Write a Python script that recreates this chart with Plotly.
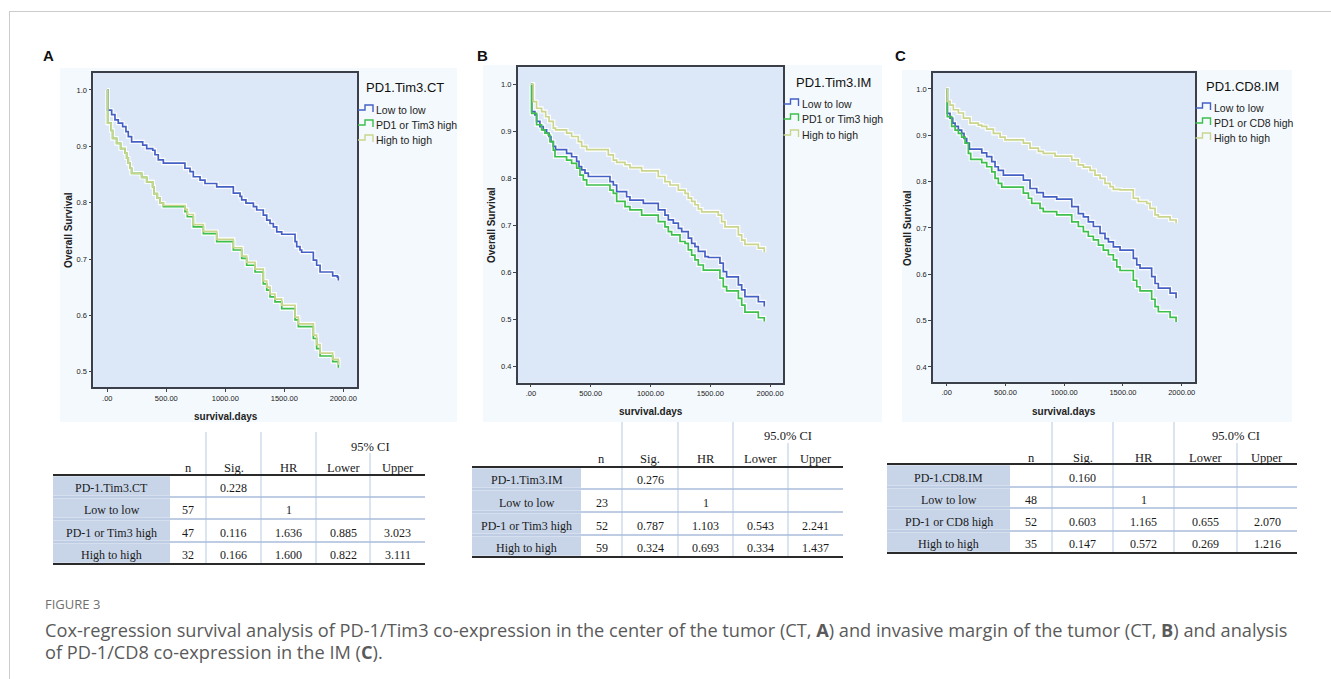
import plotly.graph_objects as go

W, H = 1331, 679

# ---------------- Kaplan-Meier curves (days, survival) ----------------
A_LOW_DAYS = [0, 3, 37, 65, 93, 130, 158, 178, 206, 300, 334, 385, 404, 432, 475, 658, 701, 729, 786, 828,
              927, 1068, 1125, 1139, 1175, 1238, 1266, 1322, 1351, 1379, 1407, 1436, 1478, 1591, 1605, 1633,
              1647, 1746, 1774, 1803, 1910, 1950, 1958]
A_LOW_SURV = [1.0, 0.964, 0.956, 0.947, 0.941, 0.935, 0.926, 0.917, 0.908, 0.902, 0.896, 0.893, 0.885, 0.876,
              0.870, 0.861, 0.855, 0.846, 0.840, 0.834, 0.828, 0.817, 0.811, 0.805, 0.799, 0.793, 0.787, 0.778,
              0.769, 0.763, 0.757, 0.748, 0.744, 0.731, 0.722, 0.716, 0.712, 0.698, 0.689, 0.677, 0.670, 0.668,
              0.662]
A_MID_DAYS = [0, 3, 33, 45, 79, 113, 150, 164, 178, 192, 206, 291, 334, 384, 396, 424, 447, 475, 658, 678,
              729, 814, 927, 1068, 1139, 1181, 1252, 1322, 1351, 1379, 1421, 1478, 1591, 1619, 1746, 1774,
              1803, 1910, 1958]
A_MID_SURV = [1.0, 0.941, 0.928, 0.914, 0.905, 0.896, 0.888, 0.879, 0.870, 0.861, 0.852, 0.845, 0.837, 0.828,
              0.816, 0.808, 0.799, 0.793, 0.784, 0.775, 0.757, 0.745, 0.731, 0.716, 0.701, 0.689, 0.677, 0.656,
              0.645, 0.633, 0.624, 0.612, 0.592, 0.580, 0.559, 0.541, 0.528, 0.518, 0.507]
A_HIGH_DAYS = [0, 3, 33, 45, 79, 113, 150, 164, 178, 192, 206, 291, 334, 384, 396, 424, 447, 475, 658, 678,
               729, 814, 927, 1068, 1139, 1181, 1252, 1322, 1351, 1379, 1421, 1478, 1591, 1619, 1746, 1774,
               1803, 1910, 1958]
A_HIGH_SURV = [1.0, 0.941, 0.928, 0.914, 0.905, 0.896, 0.888, 0.879, 0.870, 0.861, 0.852, 0.845, 0.837, 0.828,
               0.816, 0.808, 0.799, 0.795, 0.788, 0.779, 0.761, 0.749, 0.735, 0.720, 0.705, 0.694, 0.682, 0.661,
               0.650, 0.638, 0.629, 0.618, 0.597, 0.585, 0.565, 0.548, 0.533, 0.522, 0.512]

B_LOW_DAYS = [0, 6, 33, 47, 75, 103, 131, 151, 167, 187, 206, 298, 340, 382, 402, 424, 452, 480, 661, 689,
              717, 800, 828, 940, 1065, 1121, 1149, 1191, 1233, 1261, 1316, 1344, 1372, 1400, 1456, 1484,
              1581, 1609, 1637, 1735, 1763, 1790, 1902, 1952]
B_LOW_SURV = [1.0, 0.942, 0.935, 0.921, 0.910, 0.903, 0.896, 0.889, 0.878, 0.868, 0.861, 0.853, 0.846, 0.836,
              0.825, 0.818, 0.811, 0.804, 0.793, 0.786, 0.772, 0.761, 0.754, 0.747, 0.733, 0.722, 0.712, 0.705,
              0.694, 0.687, 0.673, 0.662, 0.655, 0.645, 0.634, 0.632, 0.620, 0.602, 0.591, 0.574, 0.563, 0.549,
              0.538, 0.528]
B_MID_DAYS = [0, 6, 47, 89, 117, 145, 159, 187, 201, 298, 340, 382, 410, 438, 466, 661, 689, 717, 787, 828,
              926, 1065, 1121, 1149, 1177, 1247, 1289, 1316, 1344, 1372, 1400, 1442, 1581, 1609, 1637, 1735,
              1763, 1790, 1902, 1952]
B_MID_SURV = [1.0, 0.938, 0.914, 0.903, 0.896, 0.892, 0.878, 0.860, 0.846, 0.839, 0.832, 0.822, 0.807, 0.797,
              0.786, 0.775, 0.768, 0.751, 0.740, 0.733, 0.722, 0.708, 0.697, 0.687, 0.680, 0.666, 0.662, 0.648,
              0.637, 0.627, 0.616, 0.605, 0.588, 0.570, 0.561, 0.545, 0.531, 0.516, 0.504, 0.496]
B_HIGH_DAYS = [0, 19, 47, 89, 123, 151, 187, 206, 298, 340, 396, 424, 466, 647, 689, 717, 787, 828, 926, 1065,
               1121, 1163, 1233, 1289, 1316, 1344, 1372, 1400, 1428, 1567, 1595, 1623, 1735, 1763, 1790, 1902,
               1952]
B_HIGH_SURV = [1.0, 0.963, 0.949, 0.942, 0.931, 0.921, 0.907, 0.903, 0.896, 0.889, 0.878, 0.868, 0.861, 0.850,
               0.839, 0.834, 0.829, 0.823, 0.816, 0.804, 0.793, 0.786, 0.775, 0.768, 0.758, 0.751, 0.744, 0.735,
               0.729, 0.722, 0.708, 0.697, 0.680, 0.669, 0.660, 0.652, 0.643]

C_LOW_DAYS = [0, 5, 28, 51, 71, 99, 127, 147, 170, 193, 298, 340, 383, 411, 439, 482, 652, 709, 766, 822,
              936, 1064, 1120, 1163, 1205, 1248, 1305, 1347, 1376, 1418, 1475, 1588, 1617, 1645, 1744, 1773,
              1801, 1901, 1952]
C_LOW_SURV = [1.0, 0.947, 0.937, 0.926, 0.919, 0.911, 0.904, 0.893, 0.883, 0.870, 0.862, 0.854, 0.843, 0.832,
              0.824, 0.814, 0.803, 0.785, 0.776, 0.767, 0.762, 0.746, 0.731, 0.724, 0.713, 0.703, 0.688, 0.677,
              0.670, 0.659, 0.652, 0.634, 0.620, 0.613, 0.595, 0.580, 0.570, 0.559, 0.548]
C_MID_DAYS = [0, 5, 42, 71, 99, 127, 156, 184, 204, 298, 340, 383, 411, 439, 468, 652, 695, 723, 794, 822,
              936, 1064, 1120, 1163, 1205, 1248, 1291, 1333, 1376, 1418, 1447, 1475, 1588, 1617, 1645, 1744,
              1773, 1801, 1901, 1952]
C_MID_SURV = [1.0, 0.940, 0.919, 0.911, 0.904, 0.896, 0.883, 0.861, 0.848, 0.841, 0.832, 0.821, 0.807, 0.796,
              0.788, 0.775, 0.764, 0.753, 0.742, 0.735, 0.728, 0.713, 0.703, 0.692, 0.682, 0.674, 0.663, 0.652,
              0.642, 0.631, 0.616, 0.608, 0.587, 0.573, 0.564, 0.546, 0.530, 0.519, 0.507, 0.497]
C_HIGH_DAYS = [0, 5, 28, 56, 99, 142, 198, 269, 298, 340, 397, 454, 496, 652, 709, 780, 822, 922, 1064, 1120,
               1163, 1220, 1262, 1305, 1347, 1390, 1418, 1475, 1588, 1631, 1702, 1730, 1773, 1801, 1901, 1952]
C_HIGH_SURV = [1.0, 0.973, 0.965, 0.955, 0.948, 0.937, 0.926, 0.922, 0.919, 0.913, 0.904, 0.896, 0.890, 0.883,
               0.872, 0.865, 0.861, 0.855, 0.847, 0.836, 0.831, 0.824, 0.814, 0.807, 0.796, 0.789, 0.783, 0.782,
               0.764, 0.757, 0.753, 0.742, 0.728, 0.724, 0.717, 0.710]

# ---------------- labels ----------------
LEGEND_TITLES = ["PD1.Tim3.CT", "PD1.Tim3.IM", "PD1.CD8.IM"]
LEGEND_A = ["Low to low", "PD1 or Tim3 high", "High to high"]
LEGEND_B = ["Low to low", "PD1 or Tim3 high", "High to high"]
LEGEND_C = ["Low to low", "PD1 or CD8 high", "High to high"]
PANEL_LETTERS = ["A", "B", "C"]
X_TICK_VALS = [0, 500, 1000, 1500, 2000]
X_TICK_TEXT = [".00", "500.00", "1000.00", "1500.00", "2000.00"]
Y_TICKS_A = [0.5, 0.6, 0.7, 0.8, 0.9, 1.0]
Y_TICKS_BC = [0.4, 0.5, 0.6, 0.7, 0.8, 0.9, 1.0]
X_TITLE = "survival.days"
Y_TITLE = "Overall Survival"

# ---------------- Cox regression tables ----------------
TABLE_HEADERS = ["n", "Sig.", "HR", "Lower", "Upper"]
CI_HEADERS = ["95% CI", "95.0% CI", "95.0% CI"]
TA_ROWS = ["PD-1.Tim3.CT", "Low to low", "PD-1 or Tim3 high", "High to high"]
TA_N = ["", "57", "47", "32"]
TA_SIG = ["0.228", "", "0.116", "0.166"]
TA_HR = ["", "1", "1.636", "1.600"]
TA_LOWER = ["", "", "0.885", "0.822"]
TA_UPPER = ["", "", "3.023", "3.111"]
TB_ROWS = ["PD-1.Tim3.IM", "Low to low", "PD-1 or Tim3 high", "High to high"]
TB_N = ["", "23", "52", "59"]
TB_SIG = ["0.276", "", "0.787", "0.324"]
TB_HR = ["", "1", "1.103", "0.693"]
TB_LOWER = ["", "", "0.543", "0.334"]
TB_UPPER = ["", "", "2.241", "1.437"]
TC_ROWS = ["PD-1.CD8.IM", "Low to low", "PD-1 or CD8 high", "High to high"]
TC_N = ["", "48", "52", "35"]
TC_SIG = ["0.160", "", "0.603", "0.147"]
TC_HR = ["", "1", "1.165", "0.572"]
TC_LOWER = ["", "", "0.655", "0.269"]
TC_UPPER = ["", "", "2.070", "1.216"]

FIG_LABEL = "FIGURE 3"
CAPTION_1 = ("Cox-regression survival analysis of PD-1/Tim3 co-expression in the center of the tumor (CT, <b>A</b>) "
             "and invasive margin of the tumor (CT, <b>B</b>) and analysis")
CAPTION_2 = "of PD-1/CD8 co-expression in the IM (<b>C</b>)."

# ---------------- styling / layout ----------------
COL_LOW = "#4560c4"
COL_MID = "#3cbf4c"
COL_HIGH = "#c9d58c"
PLOT_BG = "#dce8f8"
OUTER_BG = "#f4f9fd"
SANS = "Liberation Sans, Arial, sans-serif"
SERIF = "Liberation Serif, Times New Roman, serif"


def fx(p):
    return p / W


def fy(p):
    return 1 - p / H


def note(text, x, y, size, family=SANS, color="#222", xanchor="center", **kw):
    return dict(text=text, x=fx(x), y=fy(y), xref="paper", yref="paper", showarrow=False,
                xanchor=xanchor, yanchor="middle", font=dict(family=family, size=size, color=color), **kw)


PANELS = [
    dict(frame=(93.3, 73, 357, 387), xr=[-118.6, 2116], yr=[0.473, 1.030], yt=Y_TICKS_A,
         outer=(60, 68, 457, 422), letter=(48, 55), ytitle=(68, 230), xtitle=(226, 416),
         ltitle=(405, 88), gx=358, ly=[110, 125, 140], labels=LEGEND_A,
         series=[(A_LOW_DAYS, A_LOW_SURV), (A_MID_DAYS, A_MID_SURV), (A_HIGH_DAYS, A_HIGH_SURV)]),
    dict(frame=(517.7, 67.3, 783.3, 382.7), xr=[-111, 2111], yr=[0.366, 1.036], yt=Y_TICKS_BC,
         outer=(483, 65, 882, 422), letter=(482, 55), ytitle=(492, 225), xtitle=(651, 412),
         ltitle=(833, 82), gx=783.5, ly=[104, 119, 135], labels=LEGEND_B,
         series=[(B_LOW_DAYS, B_LOW_SURV), (B_MID_DAYS, B_MID_SURV), (B_HIGH_DAYS, B_HIGH_SURV)]),
    dict(frame=(933, 72.7, 1195, 381.7), xr=[-117, 2113], yr=[0.368, 1.035], yt=Y_TICKS_BC,
         outer=(902, 70, 1292, 422), letter=(900, 55), ytitle=(908, 228), xtitle=(1064, 411),
         ltitle=(1242, 87), gx=1195.5, ly=[108, 123, 138], labels=LEGEND_C,
         series=[(C_LOW_DAYS, C_LOW_SURV), (C_MID_DAYS, C_MID_SURV), (C_HIGH_DAYS, C_HIGH_SURV)]),
]

TABLES = [
    dict(left=53, cols=[170, 206, 261, 316, 370], right=425, vtop=432, cidiv=453, hline=475,
         rlines=[497, 519, 542], bottom=564, ci_y=447, hdr_y=468,
         data=[TA_ROWS, TA_N, TA_SIG, TA_HR, TA_LOWER, TA_UPPER], ci=CI_HEADERS[0]),
    dict(left=472, cols=[581, 622, 678, 733, 788], right=843, vtop=422, cidiv=443, hline=467,
         rlines=[489, 512, 535], bottom=557, ci_y=436, hdr_y=459,
         data=[TB_ROWS, TB_N, TB_SIG, TB_HR, TB_LOWER, TB_UPPER], ci=CI_HEADERS[1]),
    dict(left=887, cols=[1010, 1052, 1113, 1174, 1237], right=1297, vtop=422, cidiv=443, hline=464,
         rlines=[487, 508, 531], bottom=553, ci_y=436, hdr_y=458,
         data=[TC_ROWS, TC_N, TC_SIG, TC_HR, TC_LOWER, TC_UPPER], ci=CI_HEADERS[2]),
]

fig = go.Figure()
shapes = []
annotations = []
layout_axes = {}
colors = [COL_LOW, COL_MID, COL_HIGH]

for i, p in enumerate(PANELS):
    sfx = "" if i == 0 else str(i + 1)
    xa, ya = "x" + sfx, "y" + sfx
    x0, y0, x1, y1 = p["frame"]
    ox0, oy0, ox1, oy1 = p["outer"]
    shapes.append(dict(type="rect", xref="paper", yref="paper", x0=fx(ox0), x1=fx(ox1), y0=fy(oy1), y1=fy(oy0),
                       fillcolor=OUTER_BG, line=dict(width=0), layer="below"))
    shapes.append(dict(type="rect", xref=xa + " domain", yref=ya + " domain", x0=0, x1=1, y0=0, y1=1,
                       fillcolor=PLOT_BG, line=dict(width=0), layer="below"))
    for (d, s), c in zip(p["series"], colors):
        fig.add_trace(go.Scatter(x=d, y=s, mode="lines", line=dict(color="white", width=4, shape="hv"),
                                 xaxis=xa, yaxis=ya, showlegend=False, hoverinfo="skip"))
    for (d, s), c, name in zip(p["series"], colors, p["labels"]):
        fig.add_trace(go.Scatter(x=d, y=s, mode="lines", line=dict(color=c, width=1.7, shape="hv"),
                                 xaxis=xa, yaxis=ya, name=name, showlegend=False))
    common = dict(showline=True, mirror=True, linecolor="#3a3f4a", linewidth=1.5, showgrid=False,
                  zeroline=False, ticks="outside", ticklen=3, tickcolor="#444", tickwidth=1,
                  tickfont=dict(family=SANS, size=7.5, color="#222"))
    layout_axes["xaxis" + sfx] = dict(domain=[fx(x0), fx(x1)], range=p["xr"], anchor=ya,
                                      tickvals=X_TICK_VALS, ticktext=X_TICK_TEXT, **common)
    layout_axes["yaxis" + sfx] = dict(domain=[fy(y1), fy(y0)], range=p["yr"], anchor=xa,
                                      tickvals=p["yt"], ticktext=["%.1f" % v for v in p["yt"]], **common)
    annotations.append(note("<b>%s</b>" % PANEL_LETTERS[i], p["letter"][0], p["letter"][1], 15, color="#111"))
    annotations.append(note("<b>%s</b>" % Y_TITLE, p["ytitle"][0], p["ytitle"][1], 10, textangle=-90))
    annotations.append(note("<b>%s</b>" % X_TITLE, p["xtitle"][0], p["xtitle"][1], 10))
    annotations.append(note(LEGEND_TITLES[i], p["ltitle"][0], p["ltitle"][1], 13, color="#111"))
    gx = p["gx"]
    for yy, c, name in zip(p["ly"], colors, p["labels"]):
        path = "M %f %f L %f %f L %f %f L %f %f L %f %f" % (
            fx(gx), fy(yy), fx(gx + 7), fy(yy), fx(gx + 7), fy(yy - 5), fx(gx + 15), fy(yy - 5),
            fx(gx + 15), fy(yy + 2))
        shapes.append(dict(type="path", xref="paper", yref="paper", path=path, line=dict(color=c, width=1.4)))
        annotations.append(note(name, gx + 16, yy, 10.5, xanchor="left"))

# ---------------- tables ----------------
for t in TABLES:
    L, R = t["left"], t["right"]
    cols = t["cols"]
    bounds = [t["hline"]] + t["rlines"] + [t["bottom"]]
    for r in range(4):
        shapes.append(dict(type="rect", xref="paper", yref="paper", x0=fx(L), x1=fx(cols[0]),
                           y0=fy(bounds[r + 1] - 1.2), y1=fy(bounds[r] + 1.2),
                           fillcolor="#c8d5e8", line=dict(width=0)))
    for k, cx in enumerate(cols[1:]):
        top = t["cidiv"] if k == len(cols) - 2 else t["vtop"]
        shapes.append(dict(type="line", xref="paper", yref="paper", x0=fx(cx), x1=fx(cx), y0=fy(top),
                           y1=fy(t["bottom"]), line=dict(color="#c3d2e8", width=1.2)))
    for yy in t["rlines"]:
        shapes.append(dict(type="line", xref="paper", yref="paper", x0=fx(L), x1=fx(R), y0=fy(yy), y1=fy(yy),
                           line=dict(color="#a9bddb", width=1.6)))
    for yy in (t["hline"], t["bottom"]):
        shapes.append(dict(type="line", xref="paper", yref="paper", x0=fx(L), x1=fx(R), y0=fy(yy), y1=fy(yy),
                           line=dict(color="#2a2a2a", width=2)))
    annotations.append(note(t["ci"], (cols[3] + R) / 2, t["ci_y"], 12.5, family=SERIF, color="#1a1a1a"))
    edges = cols + [R]
    for k, h in enumerate(TABLE_HEADERS):
        annotations.append(note(h, (edges[k] + edges[k + 1]) / 2, t["hdr_y"], 12.5, family=SERIF,
                                color="#1a1a1a"))
    all_edges = [L] + cols + [R]
    for r in range(4):
        ty = (bounds[r] + bounds[r + 1]) / 2 + 2
        for c, colvals in enumerate(t["data"]):
            if colvals[r] == "":
                continue
            annotations.append(note(colvals[r], (all_edges[c] + all_edges[c + 1]) / 2, ty, 12,
                                    family=SERIF, color="#1a1a1a"))

# ---------------- page border & caption ----------------
shapes.append(dict(type="line", xref="paper", yref="paper", x0=fx(9), x1=1, y0=fy(11.5), y1=fy(11.5),
                   line=dict(color="#cccccc", width=1)))
shapes.append(dict(type="line", xref="paper", yref="paper", x0=fx(9.5), x1=fx(9.5), y0=fy(11.5), y1=0,
                   line=dict(color="#cccccc", width=1)))
annotations.append(note(FIG_LABEL, 43, 604, 13, family="Open Sans, sans-serif", color="#707070",
                        xanchor="left"))
annotations.append(note(CAPTION_1, 43, 630, 18.2, family="Open Sans, sans-serif", color="#5a5a5a",
                        xanchor="left"))
annotations.append(note(CAPTION_2, 43, 652, 18.2, family="Open Sans, sans-serif", color="#5a5a5a",
                        xanchor="left"))

fig.update_layout(width=W, height=H, margin=dict(l=0, r=0, t=0, b=0), paper_bgcolor="white",
                  plot_bgcolor=PLOT_BG, showlegend=False, shapes=shapes, annotations=annotations,
                  **layout_axes)
fig.write_html("out.html", config={"displayModeBar": False},
               post_script="document.body.style.margin='0px';")
